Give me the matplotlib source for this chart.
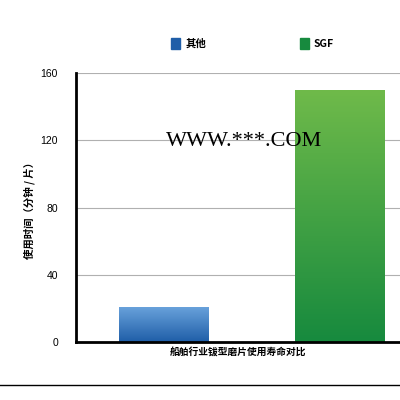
import numpy as np
import matplotlib
matplotlib.use("Agg")
import matplotlib.pyplot as plt
from matplotlib.colors import LinearSegmentedColormap

plt.rcParams['font.family'] = ['Noto Sans CJK SC', 'DejaVu Sans']

series = ["其他", "SGF"]
values = [21, 150]
yticks = [0, 40, 80, 120, 160]
xlabel = "船舶行业钹型磨片使用寿命对比"
ylabel = "使用时间（分钟 / 片）"
grads = [("#6aa3dc", "#1f5ea8"), ("#6fba4a", "#178a3e")]

fig = plt.figure(figsize=(4, 4), dpi=100)
ax = fig.add_axes([0.19, 0.145, 0.81, 0.6725])

x = np.arange(len(values))
bars = ax.bar(x, values, width=0.51, color="none", zorder=2)
for b, (top, bot) in zip(bars, grads):
    cmap = LinearSegmentedColormap.from_list("g", [bot, top])
    grad = np.linspace(0, 1, 100).reshape(-1, 1)
    bx, by = b.get_x(), b.get_y()
    im = ax.imshow(grad, cmap=cmap, origin="lower", aspect="auto",
                   extent=[bx, bx + b.get_width(), by, by + b.get_height()], zorder=2)
    im.set_clip_path(b)

ax.set_xlim(-0.5, 1.34)
ax.set_ylim(0, 160)
ax.set_yticks(yticks)
ax.set_yticklabels([str(t) for t in yticks], family="Liberation Sans")
ax.set_xticks([])
ax.yaxis.grid(True, color="#b0b0b0", linewidth=0.8)
ax.set_axisbelow(True)
for s in ["top", "right"]:
    ax.spines[s].set_visible(False)
ax.spines["left"].set_linewidth(2)
ax.spines["bottom"].set_linewidth(2)
ax.tick_params(axis="y", length=0, labelsize=7.5, pad=13)
ax.set_xlabel(xlabel, fontsize=7, fontweight="bold", labelpad=3)
ax.set_ylabel(ylabel, fontsize=7.5, fontweight="bold", labelpad=4)

# legend
for (top, bot), name, lx in zip(grads, series, [0.428, 0.75]):
    fig.patches.append(plt.Rectangle((lx, 0.878), 0.022, 0.026, color=bot,
                                     transform=fig.transFigure))
    fig.text(lx + 0.035, 0.891, name, fontsize=7.5, fontweight="bold", va="center")

fig.text(0.61, 0.645, "WWW.***.COM", family="Liberation Serif", fontsize=16,
         ha="center", va="center", zorder=5)
fig.add_artist(plt.Line2D([0, 1], [0.0375, 0.0375], color="black", linewidth=1))

fig.savefig("out.png", dpi=100, facecolor="white")
